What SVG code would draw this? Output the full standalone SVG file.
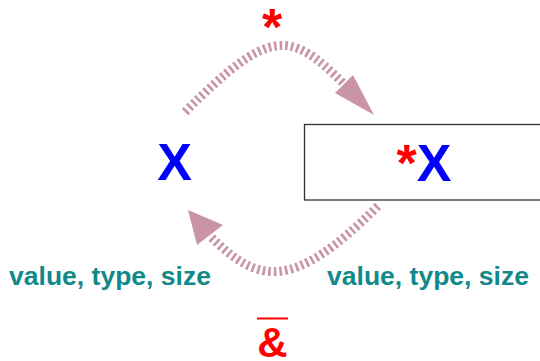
<svg xmlns="http://www.w3.org/2000/svg" width="540" height="361" viewBox="0 0 540 361">
<style>
.arc{fill:none;stroke:#c994a4;stroke-width:9;stroke-dasharray:2.6 3}
.head{fill:#c994a4}
.big{font-family:"Liberation Sans",Arial,sans-serif;font-weight:bold;font-size:52px}
.lbl{font-family:"Liberation Sans",Arial,sans-serif;font-weight:bold;font-size:26.5px;fill:#11898a}
</style>
<rect width="540" height="361" fill="#fff"/>
<g id="connectors">
<path class="arc" d="M185,112 C270,27 290,30 344,84"/>
<polygon class="head" points="335,93 353,75 374,115"/>
<path class="arc" d="M378,206 C292,292 258,284 210,236"/>
<polygon class="head" points="188,210 223,225 197,245"/>
</g>
<g id="node-x">
<text class="big" x="174.5" y="180" text-anchor="middle" fill="#0000ff">X</text>
</g>
<g id="node-deref">
<rect x="304.5" y="124.5" width="250" height="75.5" fill="#fff" stroke="#333" stroke-width="1.3"/>
<text class="big" x="424" y="181" text-anchor="middle"><tspan fill="#ff0000">*</tspan><tspan fill="#0000ff">X</tspan></text>
</g>
<g id="labels">
<text class="big" x="272" y="45" text-anchor="middle" fill="#ff0000">*</text>
<text class="lbl" x="110" y="285" text-anchor="middle">value, type, size</text>
<text class="lbl" x="428" y="285" text-anchor="middle">value, type, size</text>
<text x="272.5" y="357" text-anchor="middle" font-family="Liberation Sans,Arial,sans-serif" font-weight="bold" font-size="42" fill="#ff0000">&amp;</text>
<line x1="257" y1="318.5" x2="288" y2="318.5" stroke="#ff0000" stroke-width="2"/>
</g>
</svg>
